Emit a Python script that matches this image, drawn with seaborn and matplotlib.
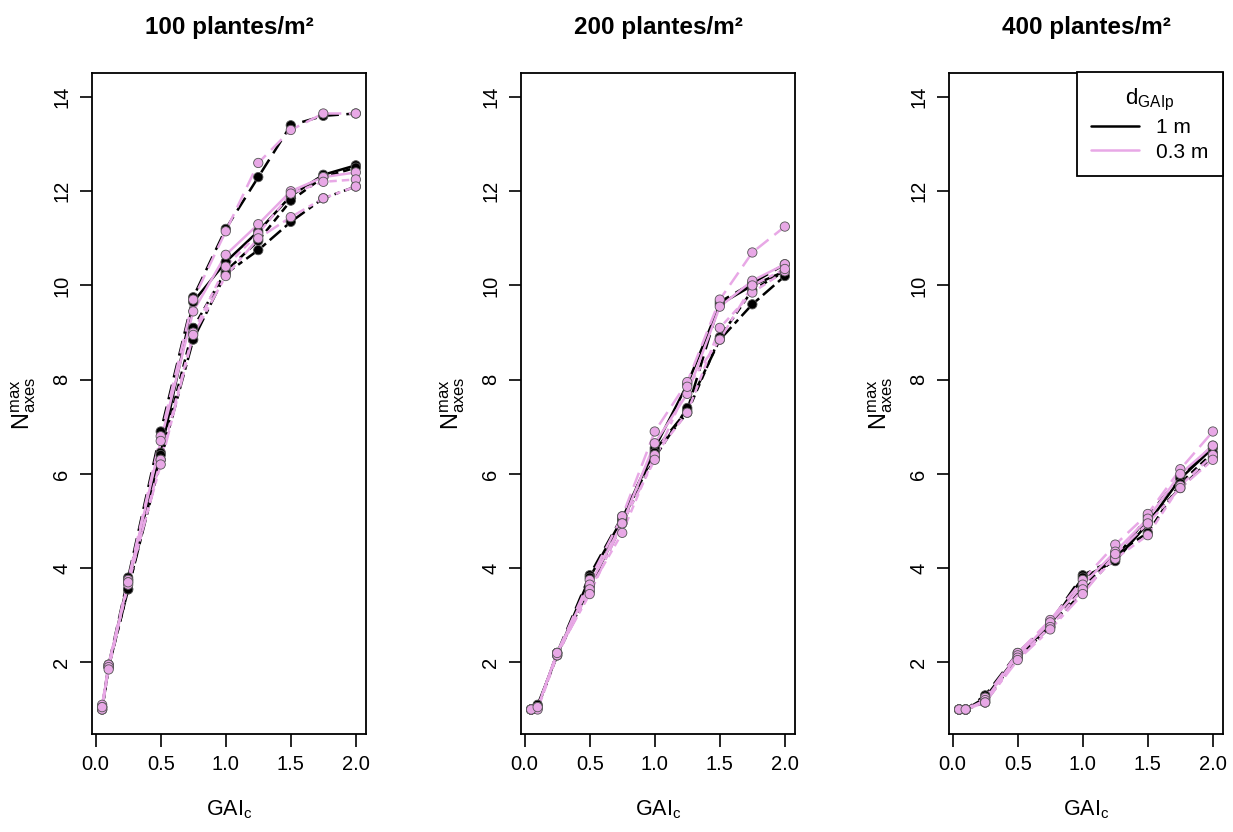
import numpy as np
import pandas as pd
import matplotlib
matplotlib.use('Agg')
import matplotlib.pyplot as plt
from matplotlib.lines import Line2D
import seaborn as sns

sns.set_style('ticks')
plt.rcParams['font.family'] = ['Liberation Sans', 'DejaVu Sans']
plt.rcParams['mathtext.default'] = 'regular'
plt.rcParams['text.color'] = 'black'
plt.rcParams['axes.labelcolor'] = 'black'
plt.rcParams['xtick.color'] = 'black'
plt.rcParams['ytick.color'] = 'black'

# GAI_c values (x axis)
gai = [0.05, 0.1, 0.25, 0.5, 0.75, 1.0, 1.25, 1.5, 1.75, 2.0]
densities = ['100 plantes/m²', '200 plantes/m²', '400 plantes/m²']
d_levels = ['1 m', '0.3 m']

# N_axes^max, 4 scenarios per d_GAIp level and density
n100_1m = [
    [1.05, 1.95, 3.80, 6.90, 9.75, 11.20, 12.30, 13.40, 13.60, 13.65],
    [1.00, 1.90, 3.75, 6.45, 9.65, 10.50, 11.15, 11.90, 12.35, 12.55],
    [1.05, 1.90, 3.55, 6.40, 9.10, 10.30, 10.95, 11.80, 12.30, 12.50],
    [1.00, 1.90, 3.55, 6.30, 8.85, 10.25, 10.75, 11.35, 11.85, 12.10],
]
n100_03m = [
    [1.10, 1.95, 3.75, 6.80, 9.70, 11.15, 12.60, 13.30, 13.65, 13.65],
    [1.05, 1.95, 3.70, 6.70, 9.45, 10.65, 11.30, 12.00, 12.30, 12.40],
    [1.00, 1.90, 3.65, 6.30, 9.00, 10.40, 11.10, 11.95, 12.20, 12.25],
    [1.05, 1.85, 3.70, 6.20, 8.95, 10.20, 11.00, 11.45, 11.85, 12.10],
]
n200_1m = [
    [1.00, 1.05, 2.20, 3.85, 5.10, 6.50, 7.35, 9.65, 10.05, 10.45],
    [1.00, 1.10, 2.15, 3.80, 5.05, 6.55, 7.90, 9.60, 10.00, 10.30],
    [1.00, 1.05, 2.15, 3.60, 5.00, 6.45, 7.30, 8.90, 9.90, 10.30],
    [1.00, 1.05, 2.20, 3.50, 4.95, 6.35, 7.40, 8.85, 9.60, 10.20],
]
n200_03m = [
    [1.00, 1.05, 2.20, 3.75, 5.10, 6.90, 7.95, 9.70, 10.70, 11.25],
    [1.00, 1.05, 2.20, 3.65, 4.95, 6.65, 7.70, 9.55, 10.10, 10.45],
    [1.00, 1.00, 2.15, 3.55, 4.75, 6.40, 7.30, 9.10, 9.85, 10.30],
    [1.00, 1.05, 2.20, 3.45, 4.95, 6.30, 7.85, 8.85, 10.00, 10.35],
]
n400_1m = [
    [1.00, 1.00, 1.30, 2.20, 2.85, 3.85, 4.20, 5.10, 5.95, 6.60],
    [1.00, 1.00, 1.25, 2.15, 2.80, 3.80, 4.15, 4.95, 5.90, 6.55],
    [1.00, 1.00, 1.20, 2.10, 2.75, 3.60, 4.30, 4.75, 5.80, 6.45],
    [1.00, 1.00, 1.15, 2.10, 2.75, 3.50, 4.25, 5.00, 5.70, 6.35],
]
n400_03m = [
    [1.00, 1.00, 1.25, 2.20, 2.90, 3.75, 4.50, 5.15, 6.10, 6.90],
    [1.00, 1.00, 1.20, 2.15, 2.85, 3.65, 4.35, 5.05, 6.00, 6.60],
    [1.00, 1.00, 1.15, 2.10, 2.75, 3.55, 4.20, 4.70, 5.75, 6.40],
    [1.00, 1.00, 1.15, 2.05, 2.70, 3.45, 4.30, 4.95, 5.70, 6.30],
]

series = {
    densities[0]: {'1 m': n100_1m, '0.3 m': n100_03m},
    densities[1]: {'1 m': n200_1m, '0.3 m': n200_03m},
    densities[2]: {'1 m': n400_1m, '0.3 m': n400_03m},
}

rows = []
for dens, by_d in series.items():
    for d, arr in by_d.items():
        for k, vals in enumerate(arr):
            for x, y in zip(gai, vals):
                rows.append({'dens': dens, 'd': d, 'rep': f'r{k}', 'GAI': x, 'N': y})
df = pd.DataFrame(rows)

palette = {'1 m': 'black', '0.3 m': '#E8A8E6'}
dashes = {'r0': (6, 3), 'r1': '', 'r2': (3, 2), 'r3': (6, 2, 2, 2)}

fig = plt.figure(figsize=(12.33, 8.32), dpi=100)
lefts = [92, 521, 949]
W, H = 1233, 832
axes = []
for i, dens in enumerate(densities):
    ax = fig.add_axes([lefts[i] / W, 1 - 734 / H, 274 / W, (734 - 72.5) / H])
    sub = df[df['dens'] == dens]
    sns.lineplot(data=sub, x='GAI', y='N', hue='d', style='rep', hue_order=d_levels,
                 palette=palette, dashes=dashes, estimator=None, sort=False,
                 legend=False, lw=1.8, ax=ax)
    sns.scatterplot(data=sub, x='GAI', y='N', hue='d', hue_order=d_levels,
                    palette=palette, s=45, edgecolor='#555555', linewidth=0.6,
                    legend=False, zorder=3, ax=ax)
    ax.set_xlim(-0.028, 2.078)
    ax.set_ylim(0.48, 14.52)
    ax.set_xticks([0.0, 0.5, 1.0, 1.5, 2.0])
    ax.set_xticklabels(['0.0', '0.5', '1.0', '1.5', '2.0'])
    ax.set_yticks([2, 4, 6, 8, 10, 12, 14])
    ax.tick_params(axis='both', direction='out', length=9, width=1.2,
                   labelsize=14.5, colors='black', pad=6)
    ax.tick_params(axis='y', labelrotation=90)
    for lab in ax.get_yticklabels():
        lab.set_va('center')
    for sp in ax.spines.values():
        sp.set_visible(True)
        sp.set_color('black')
        sp.set_linewidth(1.3)
    ax.set_xlabel(r'$\mathregular{GAI_c}$', fontsize=15.5, labelpad=18)
    ax.set_ylabel(r'$\mathregular{N^{max}_{axes}}$', fontsize=17, labelpad=10)
    ax.set_title(dens, fontsize=17.5, fontweight='bold', pad=28)
    axes.append(ax)

handles = [Line2D([], [], color=palette[d], lw=1.8) for d in d_levels]
leg = axes[2].legend(handles, d_levels, title=r'$\mathregular{d_{GAIp}}$',
                     loc='upper right', borderaxespad=0, fancybox=False,
                     frameon=True, fontsize=15, title_fontsize=16,
                     handlelength=2.3, borderpad=0.7, labelspacing=0.25,
                     handletextpad=0.8)
leg.get_frame().set_edgecolor('black')
leg.get_frame().set_linewidth(1.3)
leg.get_frame().set_alpha(1)

fig.savefig('out.png', dpi=100)
